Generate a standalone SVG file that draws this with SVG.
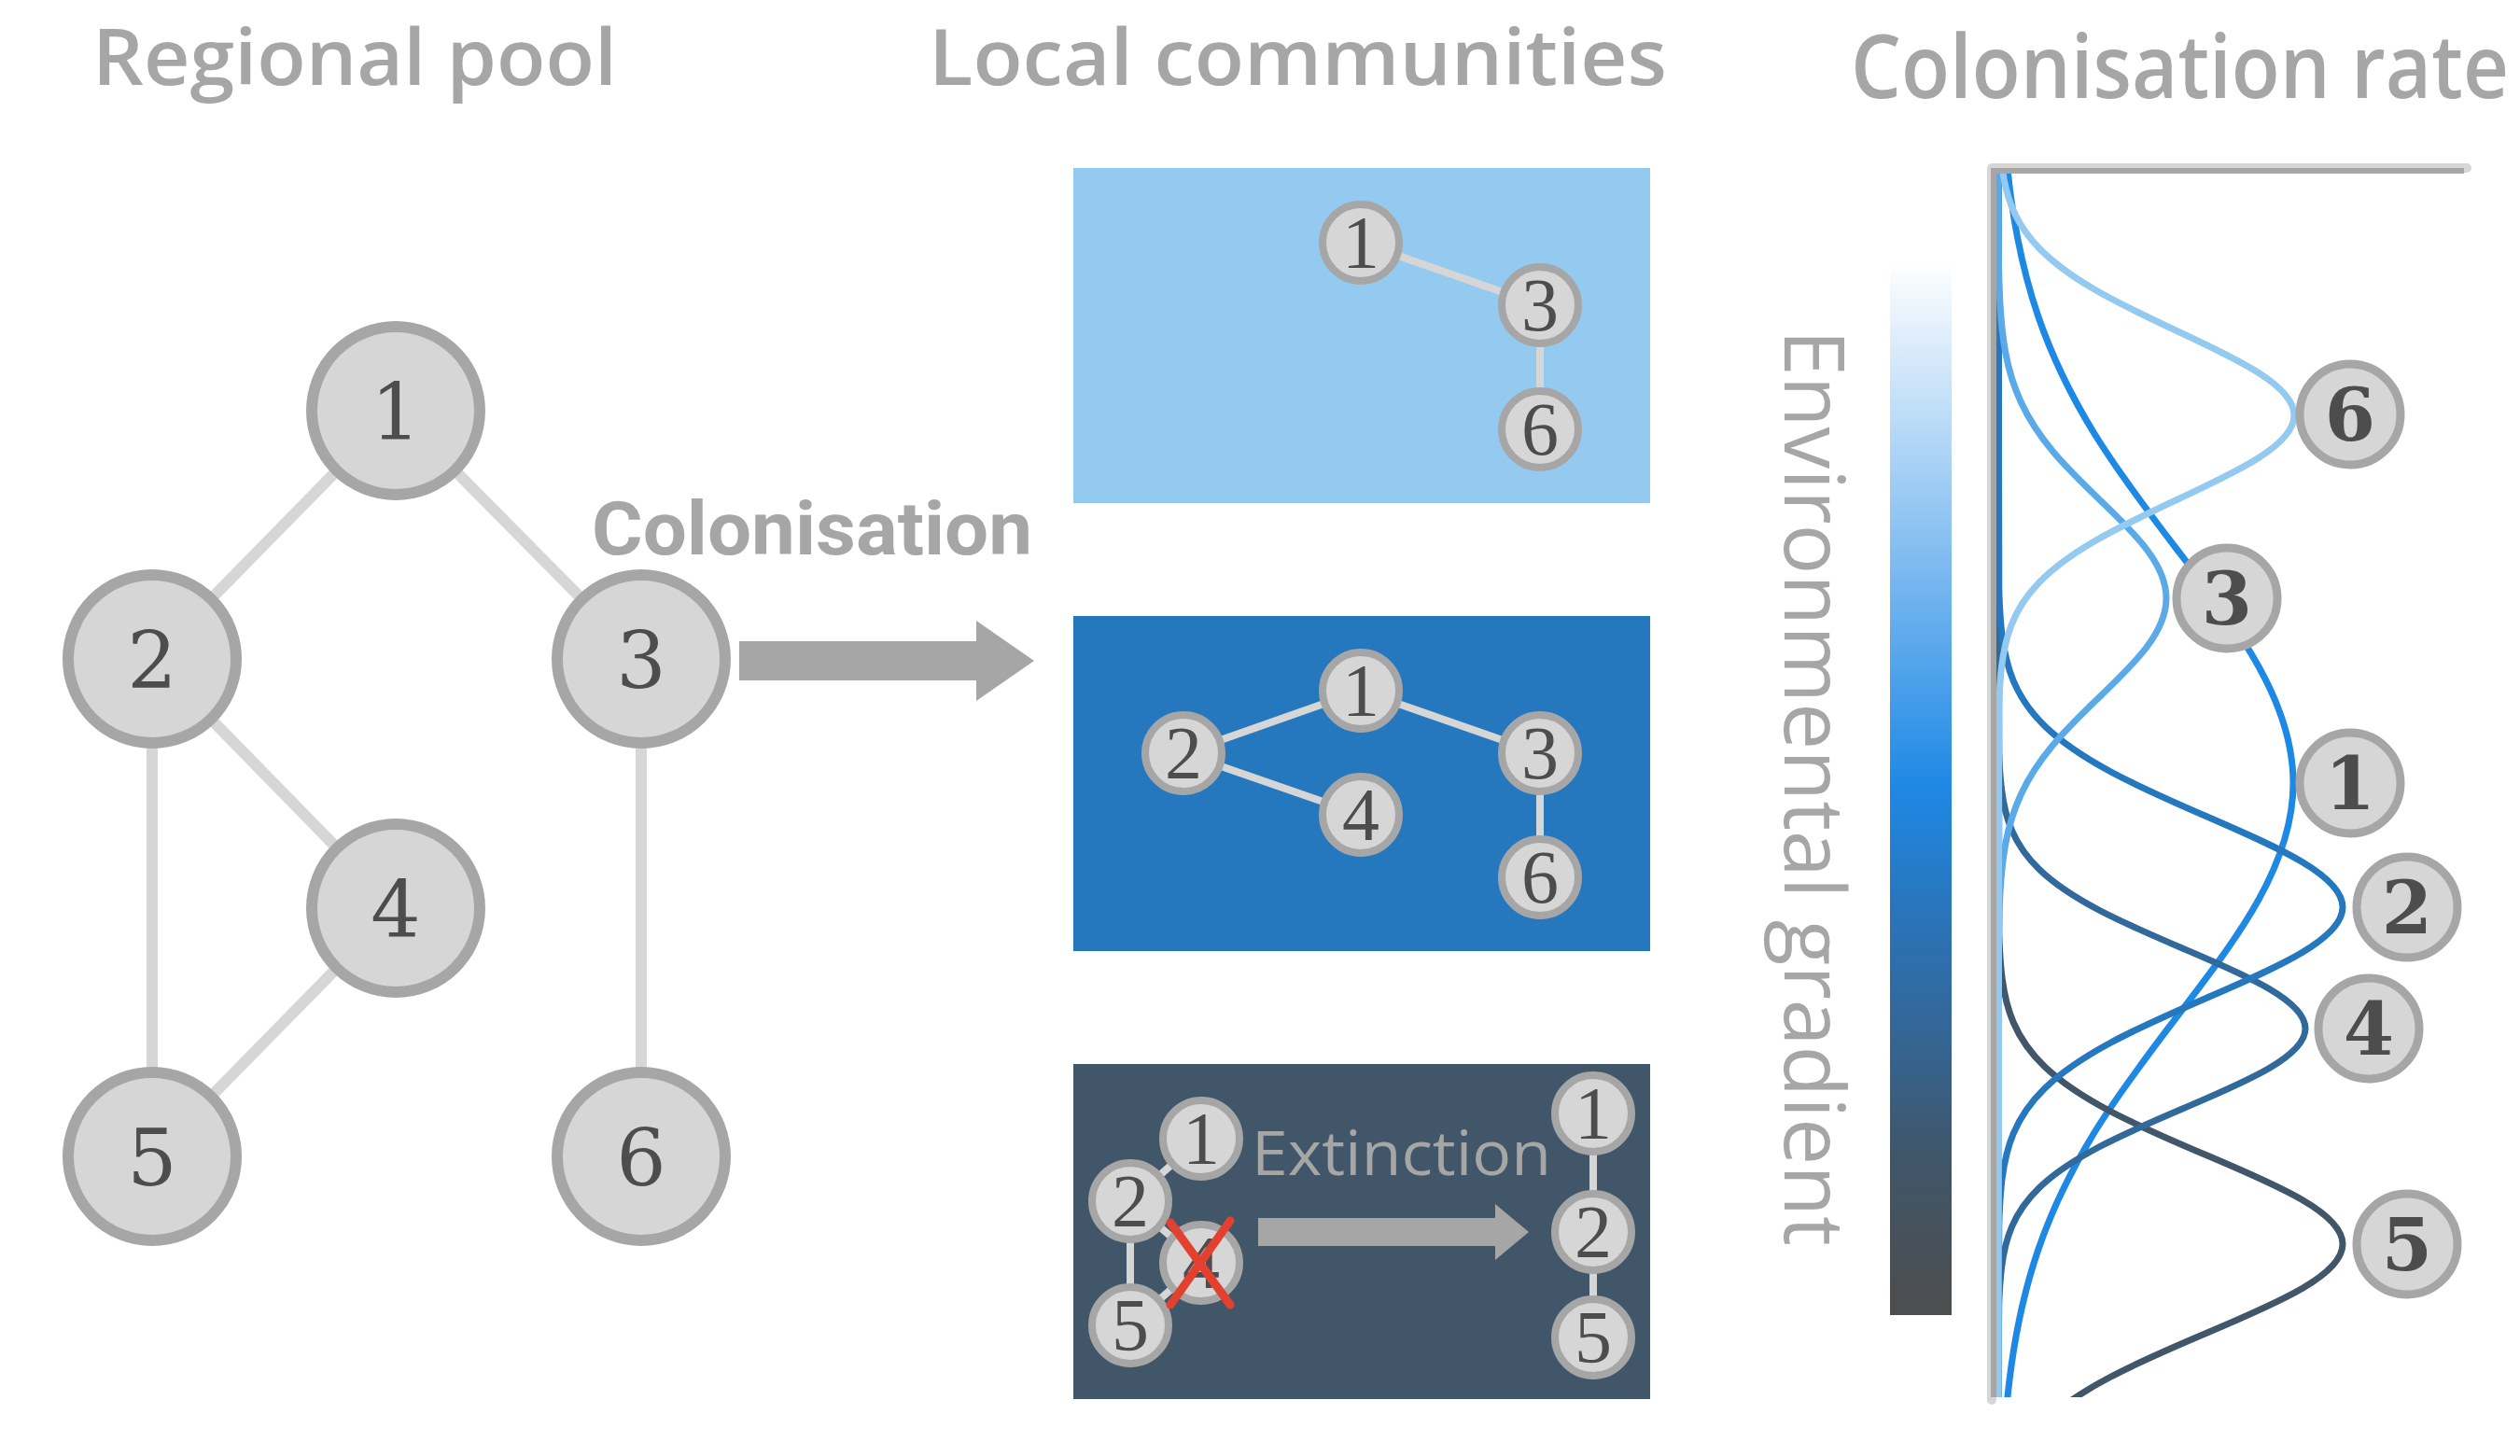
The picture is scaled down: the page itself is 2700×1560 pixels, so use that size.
<svg xmlns="http://www.w3.org/2000/svg" width="2700" height="1560" viewBox="0 0 2700 1560">
<style>
.title{font-family:"Open Sans","Liberation Sans",sans-serif;font-weight:600;fill:#a6a6a6;font-size:84px}
.edge{stroke:#d6d6d6;stroke-width:12;fill:none}
.pedge{stroke:#d6d6d6;stroke-width:8;fill:none}
.bn circle{fill:#d6d6d6;stroke:#a6a6a6;stroke-width:12}
.bn text{font-family:"DejaVu Serif",serif;font-size:84px;fill:#4d4d4d;text-anchor:middle}
.sn circle{fill:#d6d6d6;stroke:#a6a6a6;stroke-width:8}
.sn text{font-family:"Liberation Serif",serif;font-size:80px;fill:#4d4d4d;text-anchor:middle}
.ln circle{fill:#d6d6d6;stroke:#a6a6a6;stroke-width:9}
.ln text{font-family:"DejaVu Serif",serif;font-weight:bold;font-size:78px;fill:#4d4d4d;text-anchor:middle}
.curve{fill:none;stroke-width:7}
.arrow{fill:#a6a6a6}
</style>
<defs>
<linearGradient id="envgrad" x1="0" y1="0" x2="0" y2="1">
<stop offset="0" stop-color="#ffffff"/>
<stop offset="0.5" stop-color="#1e88e5"/>
<stop offset="0.6" stop-color="#2877c0"/>
<stop offset="0.72" stop-color="#33679a"/>
<stop offset="0.85" stop-color="#3f5669"/>
<stop offset="1" stop-color="#4d4d4d"/>
</linearGradient>
<clipPath id="plotclip"><rect x="2128" y="182" width="570" height="1315"/></clipPath>
</defs>
<rect width="2700" height="1560" fill="#ffffff"/>

<!-- titles -->
<text class="title" x="99" y="91" textLength="562" lengthAdjust="spacingAndGlyphs">Regional pool</text>
<text class="title" x="995" y="91" textLength="791" lengthAdjust="spacingAndGlyphs">Local communities</text>
<text class="title" transform="translate(1983,105) scale(1,1.12)" x="0" y="0" style="font-size:84px" textLength="705" lengthAdjust="spacingAndGlyphs">Colonisation rate</text>

<!-- regional pool connectors -->
<g id="pool-edges">
<line class="edge" x1="424" y1="440" x2="163" y2="706"/>
<line class="edge" x1="424" y1="440" x2="687" y2="706"/>
<line class="edge" x1="163" y1="706" x2="424" y2="973"/>
<line class="edge" x1="163" y1="706" x2="163" y2="1239"/>
<line class="edge" x1="424" y1="973" x2="163" y2="1239"/>
<line class="edge" x1="687" y1="706" x2="687" y2="1239"/>
</g>
<g id="pool-1" class="bn"><circle cx="424" cy="440" r="90"/><text x="424" y="471">1</text></g>
<g id="pool-2" class="bn"><circle cx="163" cy="706" r="90"/><text x="163" y="737">2</text></g>
<g id="pool-3" class="bn"><circle cx="687" cy="706" r="90"/><text x="687" y="737">3</text></g>
<g id="pool-4" class="bn"><circle cx="424" cy="973" r="90"/><text x="424" y="1004">4</text></g>
<g id="pool-5" class="bn"><circle cx="163" cy="1239" r="90"/><text x="163" y="1270">5</text></g>
<g id="pool-6" class="bn"><circle cx="687" cy="1239" r="90"/><text x="687" y="1270">6</text></g>

<!-- colonisation arrow -->
<g id="colonisation">
<text x="634" y="594" style="font-family:Roboto,'Liberation Sans',sans-serif;font-weight:bold;font-size:79px;fill:#a6a6a6" textLength="472" lengthAdjust="spacingAndGlyphs">Colonisation</text>
<polygon class="arrow" points="792,687 1046,687 1046,665 1108,708 1046,751 1046,729 792,729"/>
</g>

<!-- panel 1 -->
<g id="panel-1">
<rect x="1150" y="180" width="618" height="359" fill="#95caf0"/>
<line class="pedge" x1="1458" y1="260" x2="1650" y2="327"/>
<line class="pedge" x1="1650" y1="327" x2="1650" y2="460"/>
<g class="sn"><circle cx="1458" cy="260" r="41"/><text x="1458" y="287">1</text></g>
<g class="sn"><circle cx="1650" cy="327" r="41"/><text x="1650" y="354">3</text></g>
<g class="sn"><circle cx="1650" cy="460" r="41"/><text x="1650" y="487">6</text></g>
</g>

<!-- panel 2 -->
<g id="panel-2">
<rect x="1150" y="660" width="618" height="359" fill="#2577be"/>
<line class="pedge" x1="1268" y1="807" x2="1458" y2="740"/>
<line class="pedge" x1="1458" y1="740" x2="1650" y2="807"/>
<line class="pedge" x1="1268" y1="807" x2="1458" y2="873"/>
<line class="pedge" x1="1650" y1="807" x2="1650" y2="940"/>
<g class="sn"><circle cx="1458" cy="740" r="41"/><text x="1458" y="767">1</text></g>
<g class="sn"><circle cx="1268" cy="807" r="41"/><text x="1268" y="834">2</text></g>
<g class="sn"><circle cx="1650" cy="807" r="41"/><text x="1650" y="834">3</text></g>
<g class="sn"><circle cx="1458" cy="873" r="41"/><text x="1458" y="900">4</text></g>
<g class="sn"><circle cx="1650" cy="940" r="41"/><text x="1650" y="967">6</text></g>
</g>

<!-- panel 3 -->
<g id="panel-3">
<rect x="1150" y="1140" width="618" height="359" fill="#42566a"/>
<line class="pedge" x1="1287" y1="1220" x2="1211" y2="1287"/>
<line class="pedge" x1="1211" y1="1287" x2="1287" y2="1353"/>
<line class="pedge" x1="1211" y1="1287" x2="1211" y2="1420"/>
<line class="pedge" x1="1287" y1="1353" x2="1211" y2="1420"/>
<line class="pedge" x1="1707" y1="1193" x2="1707" y2="1433"/>
<g class="sn"><circle cx="1287" cy="1220" r="41"/><text x="1287" y="1247">1</text></g>
<g class="sn"><circle cx="1211" cy="1287" r="41"/><text x="1211" y="1314">2</text></g>
<g class="sn"><circle cx="1287" cy="1353" r="41"/><text x="1287" y="1380">4</text></g>
<g class="sn"><circle cx="1211" cy="1420" r="41"/><text x="1211" y="1447">5</text></g>
<g stroke="#e2412f" stroke-width="9" stroke-linecap="round">
<line x1="1254" y1="1310" x2="1318" y2="1398"/>
<line x1="1318" y1="1308" x2="1254" y2="1398"/>
</g>
<text x="1341" y="1259" style="font-family:'Open Sans','Liberation Sans',sans-serif;font-size:66px;fill:#a6a6a6" textLength="321" lengthAdjust="spacingAndGlyphs">Extinction</text>
<polygon class="arrow" points="1348,1305 1602,1305 1602,1290 1638,1320 1602,1350 1602,1335 1348,1335"/>
<g class="sn"><circle cx="1707" cy="1193" r="41"/><text x="1707" y="1220">1</text></g>
<g class="sn"><circle cx="1707" cy="1320" r="41"/><text x="1707" y="1347">2</text></g>
<g class="sn"><circle cx="1707" cy="1433" r="41"/><text x="1707" y="1460">5</text></g>
</g>

<!-- environmental gradient -->
<g id="gradient-bar">
<rect x="2025" y="279" width="66" height="1130" fill="url(#envgrad)"/>
<text transform="translate(1912,353) rotate(90)" style="font-family:'Open Sans','Liberation Sans',sans-serif;font-size:90px;fill:#a6a6a6" textLength="982" lengthAdjust="spacingAndGlyphs">Environmental gradient</text>
</g>

<!-- colonisation rate curves -->
<g id="curves" clip-path="url(#plotclip)">
<path class="curve" stroke="#1e88e5" d="M2144.5,89 C2146.3,130.7 2149.1,172.3 2154.9,214 C2160.7,255.7 2169.5,297.3 2183.8,339 C2198.1,380.7 2218,422.3 2243.6,464 C2269.3,505.7 2300.8,547.3 2332.7,589 C2364.6,630.7 2396.7,672.3 2419.9,714 C2443.1,755.7 2457,797.3 2457,839 C2457,880.7 2443.1,922.3 2419.9,964 C2396.7,1005.7 2364.6,1047.3 2332.7,1089 C2300.8,1130.7 2269.3,1172.3 2243.6,1214 C2218,1255.7 2198.1,1297.3 2183.8,1339 C2169.5,1380.7 2160.7,1422.3 2154.9,1464 C2149.1,1505.7 2146.3,1547.3 2144.5,1589"/>
<path class="curve" stroke="#42566a" d="M2141,170 L2141.8,1000.5 C2142.3,1016.3 2143.1,1032.2 2145.1,1048 C2147.2,1063.8 2150.4,1079.7 2157.2,1095.5 C2164,1111.3 2174.3,1127.2 2190.9,1143 C2207.6,1158.8 2230.9,1174.7 2260.8,1190.5 C2290.8,1206.3 2327.5,1222.2 2364.8,1238 C2402.1,1253.8 2439.5,1269.7 2466.6,1285.5 C2493.7,1301.3 2510,1317.2 2510,1333 C2510,1348.8 2493.7,1364.7 2466.6,1380.5 C2439.5,1396.3 2402.1,1412.2 2364.8,1428 C2327.5,1443.8 2290.8,1459.7 2260.8,1475.5 C2230.9,1491.3 2207.6,1507.2 2190.9,1523"/>
<path class="curve" stroke="#32699b" d="M2141,170 L2141.7,804.5 C2142.1,818.7 2142.9,832.8 2144.7,847 C2146.5,861.2 2149.5,875.3 2155.5,889.5 C2161.5,903.7 2170.7,917.8 2185.5,932 C2200.3,946.2 2221.1,960.3 2247.8,974.5 C2274.5,988.7 2307.3,1002.8 2340.6,1017 C2373.9,1031.2 2407.1,1045.3 2431.3,1059.5 C2455.5,1073.7 2470,1087.8 2470,1102 C2470,1116.2 2455.5,1130.3 2431.3,1144.5 C2407.1,1158.7 2373.9,1172.8 2340.6,1187 C2307.3,1201.2 2274.5,1215.3 2247.8,1229.5 C2221.1,1243.7 2200.3,1257.8 2185.5,1272 C2170.7,1286.2 2161.5,1300.3 2155.5,1314.5 C2149.5,1328.7 2146.5,1342.8 2144.7,1357 C2142.9,1371.2 2142.1,1385.3 2141.7,1399.5 L2141,1510"/>
<path class="curve" stroke="#2577be" d="M2141,170 L2141.8,632.5 C2142.3,648.7 2143.1,664.8 2145.1,681 C2147.2,697.2 2150.4,713.3 2157.2,729.5 C2164,745.7 2174.3,761.8 2190.9,778 C2207.6,794.2 2230.9,810.3 2260.8,826.5 C2290.8,842.7 2327.5,858.8 2364.8,875 C2402.1,891.2 2439.5,907.3 2466.6,923.5 C2493.7,939.7 2510,955.8 2510,972 C2510,988.2 2493.7,1004.3 2466.6,1020.5 C2439.5,1036.7 2402.1,1052.8 2364.8,1069 C2327.5,1085.2 2290.8,1101.3 2260.8,1117.5 C2230.9,1133.7 2207.6,1149.8 2190.9,1166 C2174.3,1182.2 2164,1198.3 2157.2,1214.5 C2150.4,1230.7 2147.2,1246.8 2145.1,1263 C2143.1,1279.2 2142.3,1295.3 2141.8,1311.5 L2141,1510"/>
<path class="curve" stroke="#5aa9e8" d="M2141,170 L2141.4,273.5 C2141.6,291 2142,308.5 2143,326 C2144,343.5 2145.6,361 2148.9,378.5 C2152.2,396 2157.3,413.5 2165.4,431 C2173.5,448.5 2184.8,466 2199.4,483.5 C2214,501 2232,518.5 2250.2,536 C2268.4,553.5 2286.7,571 2299.9,588.5 C2313.1,606 2321,623.5 2321,641 C2321,658.5 2313.1,676 2299.9,693.5 C2286.7,711 2268.4,728.5 2250.2,746 C2232,763.5 2214,781 2199.4,798.5 C2184.8,816 2173.5,833.5 2165.4,851 C2157.3,868.5 2152.2,886 2148.9,903.5 C2145.6,921 2144,938.5 2143,956 C2142,973.5 2141.6,991 2141.4,1008.5 L2141,1510"/>
<path class="curve" stroke="#95caf0" stroke-width="8" d="M2141.7,130 C2142.1,145 2142.7,160 2144.5,175 C2146.3,190 2149.1,205 2154.9,220 C2160.7,235 2169.6,250 2183.9,265 C2198.2,280 2218.2,295 2243.9,310 C2269.6,325 2301.3,340 2333.3,355 C2365.4,370 2397.5,385 2420.8,400 C2444.1,415 2458,430 2458,445 C2458,460 2444.1,475 2420.8,490 C2397.5,505 2365.4,520 2333.3,535 C2301.3,550 2269.6,565 2243.9,580 C2218.2,595 2198.2,610 2183.9,625 C2169.6,640 2160.7,655 2154.9,670 C2149.1,685 2146.3,700 2144.5,715 C2142.7,730 2142.1,745 2141.7,760 L2141,1510"/>
</g>

<!-- axis -->
<g id="axis">
<path d="M2134,1500 L2134,180 L2643,180" fill="none" stroke="#d6d6d6" stroke-width="10" stroke-linecap="round" stroke-linejoin="round"/>
<path d="M2136,1497 L2136,183 L2640,183" fill="none" stroke="#a6a6a6" stroke-width="6"/>
</g>

<!-- curve labels -->
<g id="label-6" class="ln"><circle cx="2518" cy="444" r="54"/><text x="2518" y="472">6</text></g>
<g id="label-3" class="ln"><circle cx="2386" cy="641" r="54"/><text x="2386" y="669">3</text></g>
<g id="label-1" class="ln"><circle cx="2518" cy="839" r="54"/><text x="2518" y="867">1</text></g>
<g id="label-2" class="ln"><circle cx="2579" cy="972" r="54"/><text x="2579" y="1000">2</text></g>
<g id="label-4" class="ln"><circle cx="2538" cy="1102" r="54"/><text x="2538" y="1130">4</text></g>
<g id="label-5" class="ln"><circle cx="2579" cy="1333" r="54"/><text x="2579" y="1361">5</text></g>
</svg>
